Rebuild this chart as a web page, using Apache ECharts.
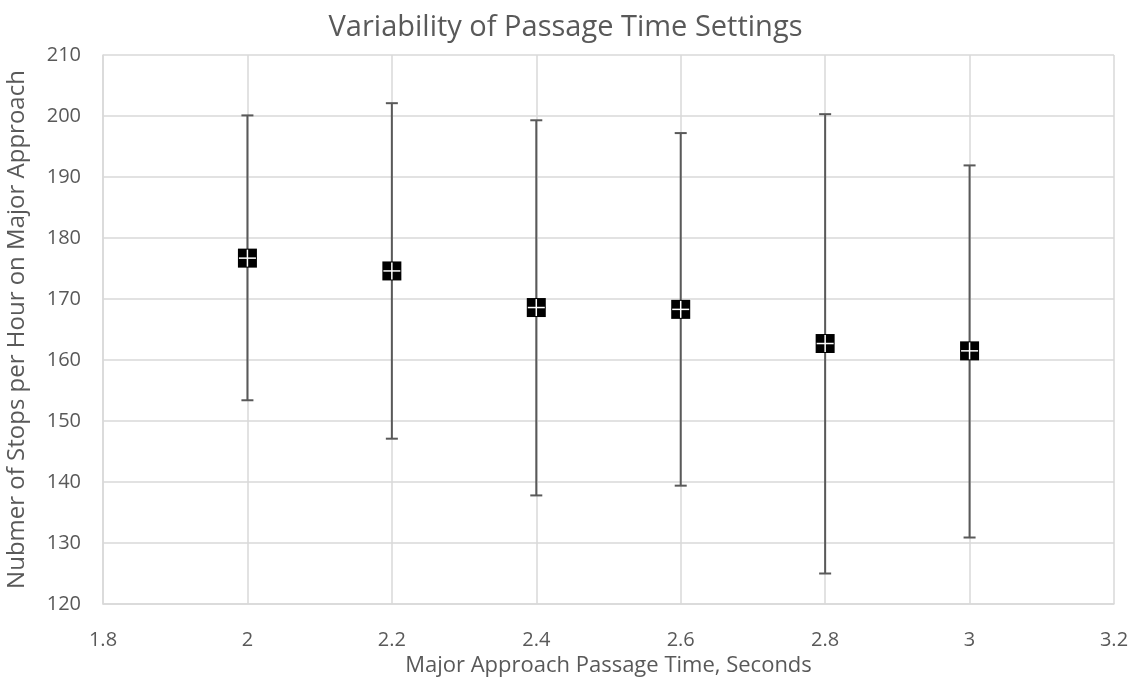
<!DOCTYPE html>
<html>
<head>
<meta charset="utf-8">
<title>Variability of Passage Time Settings</title>
<script src="https://cdn.jsdelivr.net/npm/echarts@6/dist/echarts.min.js"></script>
<style>
  html, body { margin: 0; padding: 0; background: #fff; }
  #chart { width: 1131px; height: 678px; }
</style>
</head>
<body>
<div id="chart"></div>
<script>
// passage time settings (s) and stops per hour on the major approach
const passageTimes = [2, 2.2, 2.4, 2.6, 2.8, 3]
const meanStops = [176.7, 174.6, 168.6, 168.3, 162.7, 161.5]
const lowStops = [153.4, 147.1, 137.8, 139.4, 125.0, 130.9]
const highStops = [200.1, 202.1, 199.3, 197.2, 200.3, 191.9]

const textColor = '#595959'
const gridColor = '#d9d9d9'
const font = '"Open Sans", "Noto Sans", sans-serif'

const chart = echarts.init(document.getElementById('chart'))

const rows = passageTimes.map((t, i) => [t, meanStops[i], lowStops[i], highStops[i]])

function renderBar(params, api) {
  const x = api.value(0)
  const mid = api.coord([x, api.value(1)])
  const lo = api.coord([x, api.value(2)])
  const hi = api.coord([x, api.value(3)])
  const cap = 6
  const half = 9.5
  const barStyle = { stroke: textColor, lineWidth: 2 }
  return {
    type: 'group',
    children: [
      { type: 'line', shape: { x1: hi[0], y1: hi[1], x2: lo[0], y2: lo[1] }, style: barStyle },
      { type: 'line', shape: { x1: hi[0] - cap, y1: hi[1], x2: hi[0] + cap, y2: hi[1] }, style: barStyle },
      { type: 'line', shape: { x1: lo[0] - cap, y1: lo[1], x2: lo[0] + cap, y2: lo[1] }, style: barStyle },
      { type: 'rect', shape: { x: mid[0] - half, y: mid[1] - half, width: half * 2, height: half * 2 }, style: { fill: '#000' } },
      { type: 'line', shape: { x1: mid[0] - half + 1, y1: mid[1], x2: mid[0] + half - 1, y2: mid[1] }, style: { stroke: '#fff', lineWidth: 1.5 } },
      { type: 'line', shape: { x1: mid[0], y1: mid[1] - half + 1, x2: mid[0], y2: mid[1] + half - 1 }, style: { stroke: '#fff', lineWidth: 1.5 } }
    ]
  }
}

const option = {
  animation: false,
  title: {
    text: 'Variability of Passage Time Settings',
    left: 'center',
    top: 8,
    textStyle: { color: textColor, fontFamily: font, fontSize: 29, fontWeight: 'normal' }
  },
  grid: { left: 103, right: 17, top: 55, bottom: 74, outerBoundsMode: 'none' },
  xAxis: {
    type: 'value',
    min: 1.8,
    max: 3.2,
    interval: 0.2,
    name: 'Major Approach Passage Time, Seconds',
    nameLocation: 'middle',
    nameGap: 50,
    nameTextStyle: { color: textColor, fontFamily: font, fontSize: 22 },
    axisLine: { show: true, lineStyle: { color: gridColor, width: 1.5 } },
    axisTick: { show: false },
    axisLabel: {
      color: textColor, fontFamily: font, fontSize: 20, margin: 26,
      formatter: v => String(Math.round(v * 10) / 10)
    },
    splitLine: { show: true, lineStyle: { color: gridColor, width: 1.5 } }
  },
  yAxis: {
    type: 'value',
    min: 120,
    max: 210,
    interval: 10,
    name: 'Nubmer of Stops per Hour on Major Approach',
    nameLocation: 'middle',
    nameGap: 74,
    nameTextStyle: { color: textColor, fontFamily: font, fontSize: 24 },
    axisLine: { show: true, lineStyle: { color: gridColor, width: 1.5 } },
    axisTick: { show: false },
    axisLabel: { color: textColor, fontFamily: font, fontSize: 20, margin: 22 },
    splitLine: { show: true, lineStyle: { color: gridColor, width: 1.5 } }
  },
  series: [
    {
      type: 'custom',
      renderItem: renderBar,
      data: rows,
      encode: { x: 0, y: [1, 2, 3] }
    }
  ]
}

chart.setOption(option)
window.addEventListener('resize', () => chart.resize())
</script>
</body>
</html>
